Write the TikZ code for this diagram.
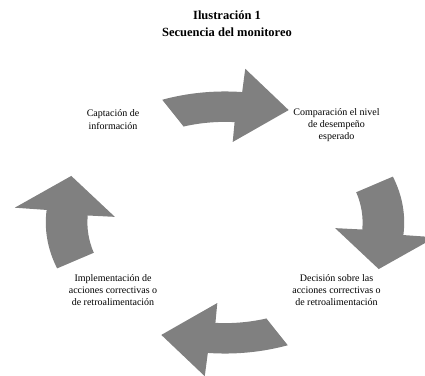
\documentclass[tikz,border=0pt]{standalone}
\usepackage{fontspec}
\setmainfont{Liberation Serif}
\usepackage{tikz}
\usepackage{xcolor}

\begin{document}
\begin{tikzpicture}[x=1pt, y=1pt,
    flecha/.style={fill=black!50, draw=none},
    paso/.style={align=center, inner sep=0pt, font=\fontsize{10}{12.3}\selectfont},
    titulo/.style={align=center, inner sep=0pt, font=\bfseries\fontsize{12.5}{16.5}\selectfont}]
    \useasboundingbox (0,0) rectangle (425,375);
    \coordinate (centro) at (225,152.5);

    \node[titulo] (tit) at (227,351.5) {Ilustración 1\\Secuencia del monitoreo};

    % las cuatro flechas del ciclo
    \foreach \t in {90,0,-90,180} {
        \fill[flecha, shift={(centro)}, xscale=160, yscale=117]
            (\t+20.5:1.12) arc[start angle=\t+20.5, end angle=\t-5.5, radius=1.12]
            -- (\t-5.5:1.32) -- (\t-22.5:1.04) -- (\t-4:0.69)
            -- (\t-4:0.86) arc[start angle=\t-4, end angle=\t+17.5, radius=0.86]
            -- cycle;
    }

    \node[paso] (captacion) at (113,255.5) {Captación de\\información};
    \node[paso] (comparacion) at (336.5,250) {Comparación el nivel\\de desempeño\\esperado};
    \node[paso] (decision) at (336.5,85) {Decisión sobre las\\acciones correctivas o\\de retroalimentación};
    \node[paso] (implementacion) at (113,85) {Implementación de\\acciones correctivas o\\de retroalimentación};
\end{tikzpicture}
\end{document}
